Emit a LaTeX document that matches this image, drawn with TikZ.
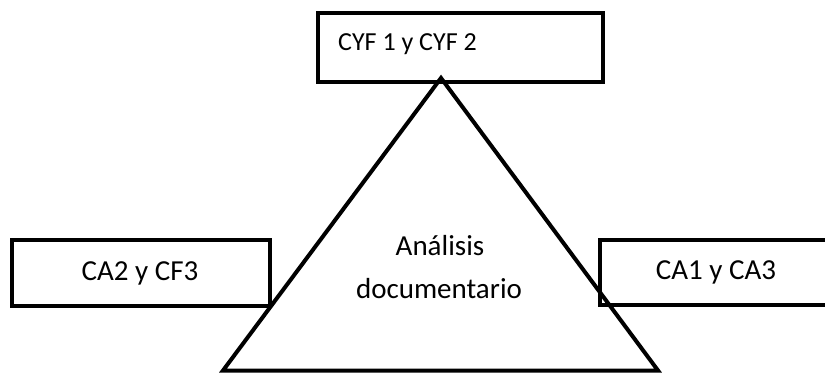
\documentclass[tikz,border=0pt]{standalone}
\usepackage{fontspec}
\setmainfont{Carlito}
\begin{document}
\begin{tikzpicture}[x=1bp,y=-1bp,
  boxline/.style={draw=black,line width=4bp,inner sep=0pt},
  bigtxt/.style={font=\fontsize{29bp}{43bp}\selectfont,inner sep=0pt},
  smalltxt/.style={font=\fontsize{26bp}{32bp}\selectfont,inner sep=0pt}]
\useasboundingbox (0,0) rectangle (825,373);
\clip (0,0) rectangle (825,373);
% boxes
\node[boxline,minimum width=285bp,minimum height=69.5bp] (top) at (460.5,47.25) {};
\node[boxline,minimum width=257.5bp,minimum height=66bp] (left) at (140.75,272.5) {};
\node[boxline,minimum width=232bp,minimum height=65.5bp] (right) at (716,272.25) {};
% texts
\node[smalltxt,anchor=base west] (toptxt) at (338,50) {CYF 1 y CYF 2};
\node[bigtxt,anchor=base] (lefttxt) at (140,280) {CA2 y CF3};
\node[bigtxt,anchor=base] (righttxt) at (716,279) {CA1 y CA3};
\node[bigtxt,anchor=base] (tri1) at (440,255) {Análisis};
\node[bigtxt,anchor=base] (tri2) at (439,298) {documentario};
% triangle
\coordinate (apex) at (441,78);
\coordinate (bl) at (223,370.5);
\coordinate (br) at (658,370.5);
\draw[line width=4bp,line join=miter] (apex) -- (bl) -- (br) -- cycle;
\end{tikzpicture}
\end{document}
